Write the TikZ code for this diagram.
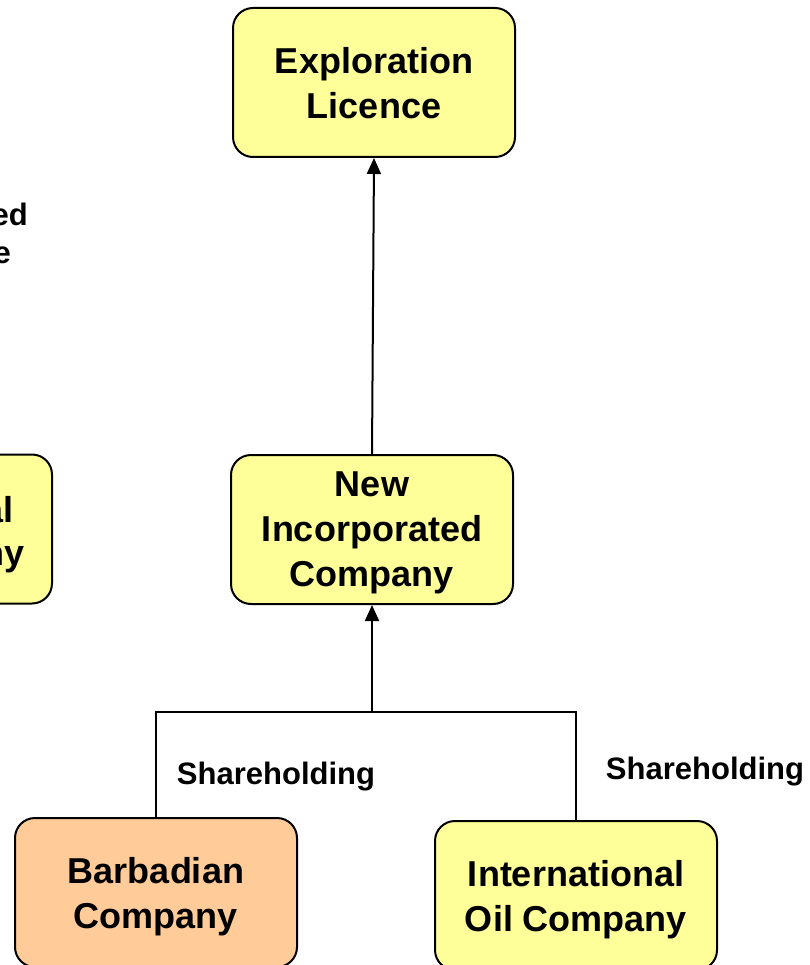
\documentclass[tikz,border=0pt]{standalone}
\usepackage{fontspec}
\setmainfont{Liberation Sans}
\usetikzlibrary{arrows.meta, positioning}

\definecolor{boxyellow}{HTML}{FFFF99}
\definecolor{boxorange}{HTML}{FFCC99}

\begin{document}
\begin{tikzpicture}[
    x=1pt, y=-1pt,
    entity/.style={draw, line width=2pt, rounded corners=20pt, align=center, minimum width=282pt, minimum height=149pt, text depth=0pt, execute at begin node={\rule{0pt}{31pt}}, fill=boxyellow, font=\fontsize{36}{45}\selectfont\bfseries},
    tag/.style={font=\fontsize{31}{38}\selectfont\bfseries, inner sep=0pt},
    link/.style={line width=2pt},
    uplink/.style={line width=2pt, -{Triangle[width=14pt,length=16pt]}}
]
\useasboundingbox (0,0) rectangle (809,965);
\clip (0,0) rectangle (809,965);

\node[entity] (licence) at (374,82.5) {Exploration\\Licence};
\node[entity] (newco) at (372,529.5) {New\\Incorporated\\Company};
\node[entity, fill=boxorange] (barbados) at (156,892.5) {Barbadian\\Company};
\node[entity] (intloil) at (576,895.5) {International\\Oil Company};

% cut-off pieces at the left edge
\node[entity] (leftco) at (-89,529) {};
\node[tag, font=\fontsize{36}{45}\selectfont\bfseries, anchor=base east] (leftA) at (14,522) {al};
\node[tag, font=\fontsize{36}{45}\selectfont\bfseries, anchor=base east] (leftB) at (25,565) {ny};
\node[tag, anchor=base east] (leftC) at (28,226) {ed};
\node[tag, anchor=base east] (leftD) at (11,264) {e};

\coordinate (join) at (372,712);
\node[tag] (share1) at (276,777) {Shareholding};
\node[tag] (share2) at (705,772) {Shareholding};

\draw[uplink] (newco.north) -- (licence.south);
\draw[link] (barbados.north) -- (barbados.north |- join) -- (intloil.north |- join) -- (intloil.north);
\draw[uplink] (join) -- (newco.south);
\end{tikzpicture}
\end{document}
